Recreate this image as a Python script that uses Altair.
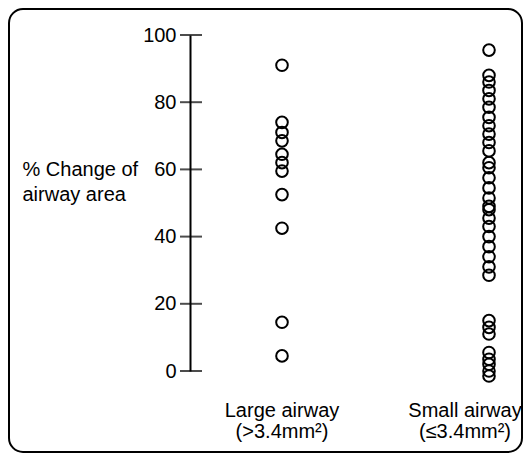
import altair as alt
import pandas as pd

groups = ["Large airway", "Small airway"]
group_labels = ["Large airway\n(>3.4mm²)", "Small airway\n(≤3.4mm²)"]
large_values = [91, 74, 71, 68.5, 64.5, 62, 59.5, 52.5, 42.5, 14.5, 4.5]
small_values = [95.5, 88, 86, 83.5, 81, 78.5, 75.5, 73, 70.5, 68, 65.5, 62,
                60.5, 57.5, 54.5, 51.5, 49, 48, 45.5, 43, 40, 37, 34, 31, 28.5,
                15, 13, 11, 5.5, 3.5, 2, 0, -1.5]
y_ticks = [0, 20, 40, 60, 80, 100]
y_title = ["% Change of", "airway area"]

rows = [{"group": groups[0], "value": v} for v in large_values] + \
       [{"group": groups[1], "value": v} for v in small_values]
df = pd.DataFrame(rows)
labels_df = pd.DataFrame({"group": groups, "label": group_labels})
ticks_df = pd.DataFrame({"tick": y_ticks})

FONT = "Liberation Sans"
xscale = alt.Scale(type="point", domain=groups, range=[92, 299], padding=0)
yscale = alt.Scale(domain=[0, 100], nice=False, zero=False)

points = alt.Chart(df).mark_point(
    shape="circle", filled=False, size=135, strokeWidth=2, color="black", opacity=1
).encode(
    x=alt.X("group:N", scale=xscale, axis=None),
    y=alt.Y("value:Q", scale=yscale,
            axis=alt.Axis(values=y_ticks, ticks=False, grid=False, domain=True,
                          domainColor="black", domainWidth=2,
                          labelFont=FONT, labelFontSize=20, labelColor="black",
                          labelPadding=14,
                          title=y_title, titleAngle=0, titleAlign="left",
                          titleBaseline="alphabetic", titleX=-168, titleY=140,
                          titleFont=FONT, titleFontSize=20, titleFontWeight="normal",
                          titleColor="black", titleLineHeight=25)),
)

ticks = alt.Chart(ticks_df).mark_tick(
    orient="horizontal", size=22, thickness=2, color="black"
).encode(
    y=alt.Y("tick:Q", scale=yscale),
    x=alt.value(1),
)


def label_layer(group, dx):
    return alt.Chart(labels_df).transform_filter(
        alt.datum.group == group
    ).mark_text(
        font=FONT, fontSize=20, color="black", lineBreak="\n", lineHeight=21,
        align="center", baseline="alphabetic", dx=dx
    ).encode(
        x=alt.X("group:N", scale=xscale, axis=None),
        y=alt.value(382),
        text="label:N",
    )


text_large = label_layer(groups[0], 0)
text_small = label_layer(groups[1], -24)

border = alt.Chart(alt.Data(values=[{}])).mark_rect(
    fillOpacity=0, stroke="black", strokeWidth=2, cornerRadius=14
).encode(
    x=alt.value(-181), x2=alt.value(332), y=alt.value(-26), y2=alt.value(417)
)

chart = alt.layer(border, ticks, points, text_large, text_small).properties(
    width=330, height=336,
    autosize=alt.AutoSizeParams(type="none"),
    padding={"left": 182, "top": 27, "right": 3, "bottom": 82},
    background="white",
).configure_view(stroke=None)

chart.save("out.html", embed_options={"renderer": "svg", "actions": False})
